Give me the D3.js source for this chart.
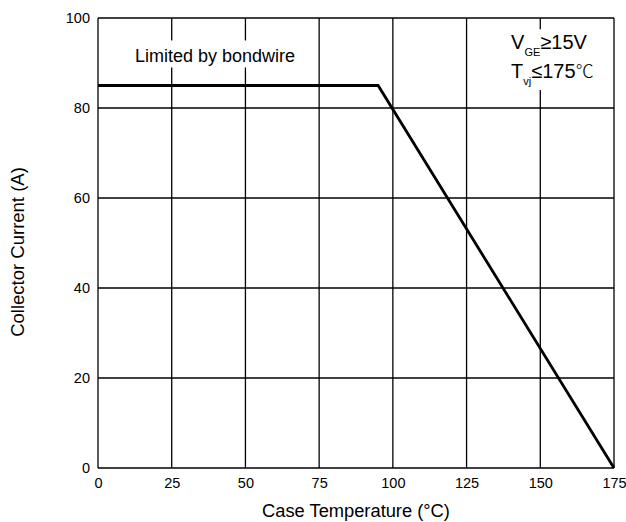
<!DOCTYPE html>
<html>
<head>
<meta charset="utf-8">
<script src="https://cdn.jsdelivr.net/npm/d3@7"></script>
<style>
  body { margin: 0; background: #fff; }
  svg text { font-family: "Liberation Sans", Arial, sans-serif; fill: #000; }
</style>
</head>
<body>
<div id="chart"></div>
<script>
// curve points (case temperature, collector current)
var caseTemp = [0, 95, 175];
var collectorCurrent = [85, 85, 0];
var xTicks = [0, 25, 50, 75, 100, 125, 150, 175];
var yTicks = [0, 20, 40, 60, 80, 100];

var margin = {top: 18, right: 12, bottom: 54, left: 98};
var width = 626 - margin.left - margin.right;
var height = 522 - margin.top - margin.bottom;

var svg = d3.select("#chart").append("svg")
    .attr("width", 626)
    .attr("height", 522);
var g = svg.append("g")
    .attr("transform", "translate(" + margin.left + "," + margin.top + ")");

var x = d3.scaleLinear().domain([0, 175]).range([0, width]);
var y = d3.scaleLinear().domain([0, 100]).range([height, 0]);

// grid
g.selectAll(".vgrid").data(xTicks).enter().append("line")
    .attr("x1", function(d) { return x(d); })
    .attr("x2", function(d) { return x(d); })
    .attr("y1", 0).attr("y2", height)
    .attr("stroke", "#000").attr("stroke-width", 1.3);
g.selectAll(".hgrid").data(yTicks).enter().append("line")
    .attr("y1", function(d) { return y(d); })
    .attr("y2", function(d) { return y(d); })
    .attr("x1", 0).attr("x2", width)
    .attr("stroke", "#000").attr("stroke-width", 1.3);

// axes (labels only)
var xAxis = g.append("g")
    .attr("transform", "translate(0," + height + ")")
    .call(d3.axisBottom(x).tickValues(xTicks).tickSize(0).tickPadding(10));
var yAxis = g.append("g")
    .call(d3.axisLeft(y).tickValues(yTicks).tickSize(0).tickPadding(8));
[xAxis, yAxis].forEach(function(a) {
    a.select(".domain").remove();
    a.selectAll("text")
        .style("font-family", "'Liberation Sans', Arial, sans-serif")
        .style("font-size", "14.5px");
});

// curve
var line = d3.line()
    .x(function(d, i) { return x(caseTemp[i]); })
    .y(function(d) { return y(d); });
g.append("path")
    .datum(collectorCurrent)
    .attr("d", line)
    .attr("fill", "none")
    .attr("stroke", "#000")
    .attr("stroke-width", 2.8);

// annotations
g.append("rect")
    .attr("x", x(10)).attr("y", y(95))
    .attr("width", x(68) - x(10)).attr("height", y(89) - y(95))
    .attr("fill", "#fff");
g.append("text")
    .attr("x", x(39.7)).attr("y", y(90.2))
    .attr("text-anchor", "middle")
    .style("font-size", "18px")
    .text("Limited by bondwire");

g.append("rect")
    .attr("x", x(137.5)).attr("y", y(97.5))
    .attr("width", x(172.5) - x(137.5)).attr("height", y(84) - y(97.5))
    .attr("fill", "#fff");
var t1 = g.append("text")
    .attr("x", x(140.1)).attr("y", y(93.2))
    .style("font-size", "20px");
t1.append("tspan").text("V");
t1.append("tspan").attr("dy", 7).style("font-size", "11px").text("GE");
t1.append("tspan").attr("dy", -7).text("≥15V");
var t2 = g.append("text")
    .attr("x", x(140.1)).attr("y", y(86.6))
    .style("font-size", "20px");
t2.append("tspan").text("T");
t2.append("tspan").attr("dy", 7).style("font-size", "11px").text("vj");
t2.append("tspan").attr("dy", -7).text("≤175");
t2.append("tspan").style("font-family", "'Noto Sans CJK SC', sans-serif")
    .style("font-size", "18px").style("font-weight", 300).text("℃");

// axis titles
svg.append("text")
    .attr("x", margin.left + width / 2)
    .attr("y", 517)
    .attr("text-anchor", "middle")
    .style("font-size", "18.3px")
    .text("Case Temperature (°C)");
svg.append("text")
    .attr("transform", "translate(24,252) rotate(-90)")
    .attr("text-anchor", "middle")
    .style("font-size", "18.5px")
    .text("Collector Current (A)");
</script>
</body>
</html>
